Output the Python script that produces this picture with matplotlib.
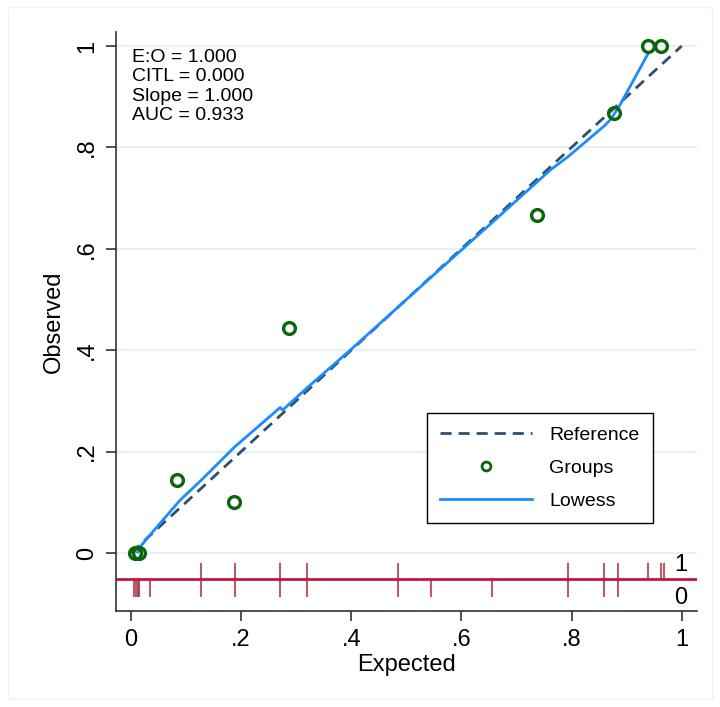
import matplotlib
matplotlib.use("Agg")
import matplotlib.pyplot as plt
from matplotlib.patches import Rectangle
import numpy as np

plt.rcParams['font.family'] = ['Liberation Sans', 'DejaVu Sans']

# grouped observed vs expected
grp_exp = [0.007, 0.0145, 0.0835, 0.187, 0.287, 0.737, 0.877, 0.939, 0.962]
grp_obs = [0.0, 0.0, 0.143, 0.100, 0.444, 0.667, 0.867, 1.0, 1.0]

# lowess smoother
low_x = [0.012, 0.015, 0.035, 0.089, 0.127, 0.189, 0.271, 0.2755, 0.319, 0.398,
         0.485, 0.544, 0.656, 0.761, 0.794, 0.859, 0.870, 0.885, 0.939]
low_y = [0.002, 0.010, 0.036, 0.104, 0.143, 0.210, 0.287, 0.282, 0.325, 0.400,
         0.485, 0.543, 0.652, 0.755, 0.782, 0.842, 0.854, 0.878, 0.985]

# rug: predicted risk of events (1) and non-events (0)
rug_1 = [0.127, 0.189, 0.271, 0.319, 0.485, 0.794, 0.859, 0.885, 0.939, 0.962, 0.968]
rug_0 = [0.006, 0.009, 0.012, 0.015, 0.0345, 0.127, 0.189, 0.271, 0.319, 0.485,
         0.544, 0.656, 0.794, 0.859, 0.885]

stats = ["E:O = 1.000", "CITL = 0.000", "Slope = 1.000", "AUC = 0.933"]

yticks = [0, 0.2, 0.4, 0.6, 0.8, 1.0]
ticklab = ["0", ".2", ".4", ".6", ".8", "1"]

fig = plt.figure(figsize=(7.2, 7.07), dpi=100)
fig.patches.append(Rectangle((8/720, 8/707), 1-16/720, 1-15/707, transform=fig.transFigure,
                             fill=False, edgecolor='#eef3f4', linewidth=1))
ax = fig.add_axes([116/720, 1-611/707, 581/720, 579/707])

for yt in yticks:
    ax.axhline(yt, color='#e9f0f2', linewidth=1.6, zorder=0)

ax.plot([0, 1], [0, 1], linestyle=(0, (4, 2.5)), color='#2f4f6f', linewidth=2, label='Reference', zorder=2)
ax.plot(grp_exp, grp_obs, 'o', markerfacecolor='none', markeredgecolor='#0b650b',
        markersize=8.5, markeredgewidth=2.4, label='Groups', zorder=4)
ax.plot(low_x, low_y, color='#1a8cff', linewidth=2, label='Lowess', zorder=3)

base = -0.052
ax.axhline(base, color='#c8143c', linewidth=2, zorder=2)
ax.vlines(rug_1, base, -0.019, color='#a02838', alpha=0.75, linewidth=1.5, zorder=1)
ax.vlines(rug_0, -0.086, base, color='#a02838', alpha=0.75, linewidth=1.5, zorder=1)
ax.text(0.998, -0.0237, "1", ha='center', va='center', fontsize=17)
ax.text(0.998, -0.0888, "0", ha='center', va='center', fontsize=17)

for i, s in enumerate(stats):
    ax.text(0.002, 0.978 - i*0.0385, s, ha='left', va='center', fontsize=14)

ax.set_xlim(-0.0272, 1.0278)
ax.set_ylim(-0.1144, 1.0276)
ax.set_xticks(yticks)
ax.set_xticklabels(ticklab)
ax.set_yticks(yticks)
ax.set_yticklabels(ticklab, rotation=90, va='center')
ax.tick_params(length=7, width=1.2, color='#333333', labelsize=17, pad=6)
for s in ['top', 'right']:
    ax.spines[s].set_visible(False)
for s in ['left', 'bottom']:
    ax.spines[s].set_color('#333333')
    ax.spines[s].set_linewidth(1.2)

ax.set_xlabel("Expected", fontsize=17, labelpad=2)
ax.set_ylabel("Observed", fontsize=17, labelpad=8)

leg = ax.legend(loc='upper left', bbox_to_anchor=(0.535, 0.342), fontsize=14,
                fancybox=False, edgecolor='black', framealpha=1, handlelength=4.7,
                handletextpad=0.9, labelspacing=0.78, borderpad=0.7, borderaxespad=0,
                markerscale=0.75)
leg.get_frame().set_linewidth(1)
for h in leg.legend_handles:
    if h.get_label() == 'Groups' or h.get_marker() == 'o':
        h.set_markeredgewidth(2.0)

fig.savefig("out.png", dpi=100)
